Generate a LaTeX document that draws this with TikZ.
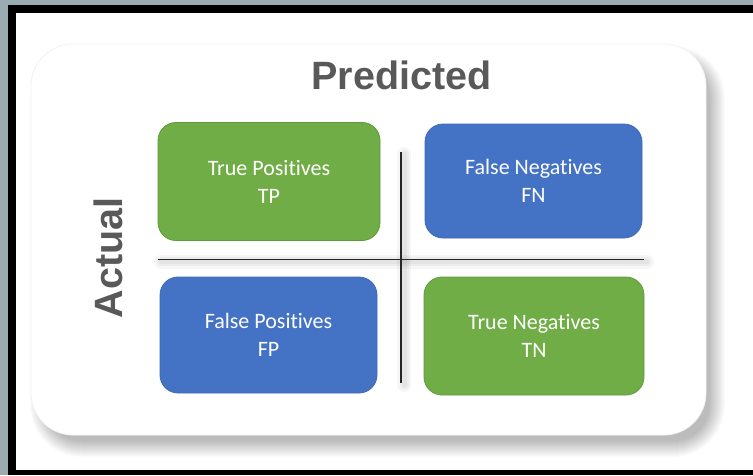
\documentclass[tikz,border=0pt]{standalone}
\usepackage{fontspec}
\setmainfont{Carlito}[Ligatures=NoCommon]
\newfontfamily\arialfont{Liberation Sans}
\definecolor{framegray}{HTML}{9AABB2}
\definecolor{offgreen}{HTML}{70AD47}
\definecolor{offgreenb}{HTML}{5E9A3A}
\definecolor{offblue}{HTML}{4472C4}
\definecolor{offblueb}{HTML}{3F69B6}
\definecolor{titlegray}{HTML}{595959}
\definecolor{panelline}{HTML}{F2F2F2}
\tikzset{
  cell/.style={rounded corners=18pt, minimum width=#1, text=white, align=center,
    font=\fontsize{22}{28}\selectfont, inner sep=0pt, line width=0.8pt},
  greencell/.style={cell=220pt, fill=offgreen, draw=offgreenb},
  bluecell/.style={cell=217pt, fill=offblue, draw=offblueb},
  axislabel/.style={text=titlegray, font=\arialfont\bfseries\fontsize{39.5}{44}\selectfont, anchor=base, inner sep=0pt},
  divider/.style={line width=1.3pt, black!85},
  dividerhalo/.style={line width=#1, black, opacity=0.035, line cap=round},
  shadowlayer/.style={fill=black, opacity=0.017}
}
\begin{document}
\begin{tikzpicture}[x=1pt,y=-1pt]
\useasboundingbox (0,0) rectangle (753,475);
% frame
\fill[framegray] (0,0) rectangle (753,475);
\fill[black] (8,5) rectangle (753,475);
\fill[white] (16,13) rectangle (753,470);
% panel shadow
\foreach \s in {-6,-5,...,10}{
  \fill[shadowlayer, rounded corners={42pt+\s pt}]
    ({31+9-\s},{44+12-\s}) rectangle ({706+9+\s},{435+12+\s});
}
% panel
\path[fill=white, draw=panelline, line width=0.8pt, rounded corners=42pt]
  (31,44) rectangle (706,435);
% titles
\node[axislabel] (pred) at (401.5,89) {Predicted};
\node[axislabel, rotate=90] (act) at (122,258) {Actual};
% divider lines
\coordinate (hl) at (158,259.5);
\coordinate (hr) at (644,259.5);
\coordinate (vt) at (401,152);
\coordinate (vb) at (401,383);
\foreach \w in {14pt,9pt,5pt}{
  \draw[dividerhalo=\w] ([xshift=3pt,yshift=-2pt]hl) -- ([xshift=3pt,yshift=-2pt]hr);
  \draw[dividerhalo=\w] ([xshift=3pt,yshift=-2pt]vt) -- ([xshift=3pt,yshift=-2pt]vb);
}
\draw[divider] (hl) -- (hr);
\draw[divider] (vt) -- (vb);
% cells
\node[greencell, minimum width=222pt, minimum height=118pt] (tp) at (269,181.5) {True Positives\\TP};
\node[bluecell, minimum width=217pt, minimum height=114pt] (fn) at (533.5,181) {False Negatives\\FN};
\node[bluecell, minimum width=217pt, minimum height=116pt] (fp) at (268.5,335) {False Positives\\FP};
\node[greencell, minimum width=220pt, minimum height=118pt] (tn) at (534,336) {True Negatives\\TN};
\end{tikzpicture}
\end{document}
